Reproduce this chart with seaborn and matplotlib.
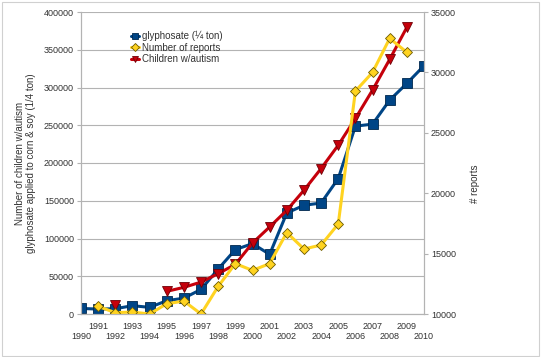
import matplotlib
matplotlib.use("Agg")
import matplotlib.pyplot as plt
from matplotlib.lines import Line2D
import seaborn as sns
import pandas as pd

# values
years = list(range(1990, 2011))
glyphosate = [7400, 6500, 7000, 11000, 8800, 17600, 21000, 32600, 59600, 85300,
              93200, 79000, 133800, 144000, 147000, 179400, 248800, 251500,
              283300, 305400, 328800]
report_years = list(range(1991, 2010))
reports = [10630, 10110, 10160, 10000, 10850, 11070, 10000, 12290, 14170, 13610,
           14170, 16740, 15380, 15710, 17450, 28450, 30000, 32820, 31660]
# 1993 and 1994 missing, so 1992 stands alone
autism_years = [1992] + list(range(1995, 2010))
autism = [11800, 30000, 35300, 42300, 53400, 65800, 94000, 115300,
          137400, 163900, 192700, 223600, 259000, 296600, 337300, 379700]
autism_seg = [0] + [1] * 15

blue = "#004586"
yellow = "#ffd320"
red = "#c5000b"
grey = "#b3b3b3"
txt = "#333333"

sns.set_theme(style="white")
plt.rcParams["font.family"] = ["Liberation Sans", "DejaVu Sans"]

fig = plt.figure(figsize=(5.42, 3.57), dpi=100)
ax = fig.add_axes([81 / 542, 1 - 314 / 357, (424 - 81) / 542, (314 - 12) / 357])
ax2 = ax.twinx()

df_g = pd.DataFrame({"year": years, "v": glyphosate})
df_a = pd.DataFrame({"year": autism_years, "v": autism, "seg": autism_seg})
df_r = pd.DataFrame({"year": report_years, "v": reports})

g_style = dict(color=blue, lw=2.2, marker="s", markersize=7,
               markeredgecolor="#00284d", markeredgewidth=0.6)
a_style = dict(color=red, lw=2.2, marker="v", markersize=7,
               markeredgecolor="#6e0006", markeredgewidth=0.6)
r_style = dict(color=yellow, lw=2.2, marker="D", markersize=5.5,
               markeredgecolor="#6b5a00", markeredgewidth=0.6)

sns.lineplot(data=df_g, x="year", y="v", ax=ax, legend=False, **g_style)
sns.lineplot(data=df_a, x="year", y="v", units="seg", estimator=None, ax=ax,
             legend=False, **a_style)
sns.lineplot(data=df_r, x="year", y="v", ax=ax2, legend=False, **r_style)

ax.set_xlim(1990, 2010)
ax.set_ylim(0, 400000)
ax2.set_ylim(10000, 35000)
ax.set_yticks(range(0, 400001, 50000))
ax2.set_yticks(range(10000, 35001, 5000))

# staggered year labels: odd years on the first row, even years below
odd = [y for y in years if y % 2]
even = [y for y in years if y % 2 == 0]
ax.set_xticks(odd)
ax.set_xticklabels([str(y) for y in odd])
ax.set_xticks(even, minor=True)
ax.set_xticklabels([str(y) for y in even], minor=True)

ax.grid(axis="y", color=grey, lw=0.8)
ax.set_axisbelow(True)
for a in (ax, ax2):
    for s in a.spines.values():
        s.set_color(grey)
        s.set_linewidth(0.8)
    a.spines["top"].set_visible(False)
    a.tick_params(colors=grey, labelcolor=txt, labelsize=6.5, length=3, width=0.8)
ax.tick_params(axis="y", pad=2)
ax.tick_params(axis="x", which="major", length=4, pad=2, labelsize=6.5)
ax.tick_params(axis="x", which="minor", length=4, pad=9, labelsize=6.5,
               colors=grey, labelcolor=txt, width=0.8)
ax2.tick_params(axis="y", pad=2)

ax.set_xlabel("")
ax.set_ylabel("Number of children w/autism\nglyphosate applied to corn & soy (1/4 ton)",
              fontsize=7, color=txt, linespacing=1.15, labelpad=6)
ax2.set_ylabel("# reports", fontsize=7, color=txt)
ax2.yaxis.set_label_coords(1.135, 0.43)

handles = [Line2D([], [], **g_style), Line2D([], [], **r_style), Line2D([], [], **a_style)]
labels = ["glyphosate (¼ ton)", "Number of reports", "Children w/autism"]
leg = ax2.legend(handles, labels, loc="upper left", bbox_to_anchor=(0.135, 0.95),
                 frameon=False, fontsize=7, handlelength=0.8, handletextpad=0.3,
                 labelspacing=0.15, borderaxespad=0, markerscale=0.7)
for t in leg.get_texts():
    t.set_color(txt)

fig.patches.append(plt.Rectangle((0.003, 0.003), 0.992, 0.992, transform=fig.transFigure,
                                 fill=False, edgecolor="#d0d0d0", lw=0.8))

fig.savefig("out.png", dpi=100)
